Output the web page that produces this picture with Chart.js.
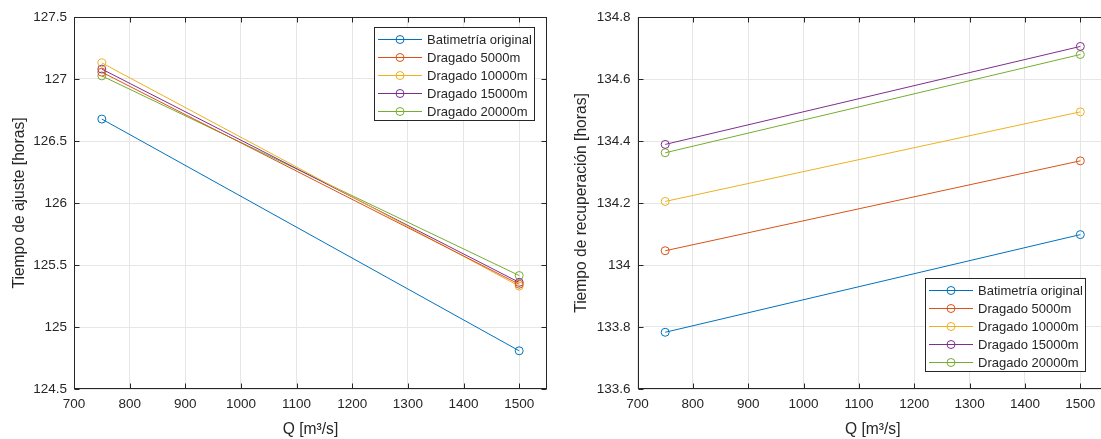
<!DOCTYPE html>
<html lang="es">
<head>
  <meta charset="UTF-8">
  <title>Tiempo de ajuste y recuperación</title>
  <script src="https://cdn.jsdelivr.net/npm/chart.js"></script>
  <style>
    body { margin: 0; width: 1101px; height: 439px; overflow: hidden; background: #fff; position: relative; font-family: 'Liberation Sans', Arial, sans-serif; }
    .panel { position: absolute; top: 0; }
    #panelAjuste { left: 0; }
    #panelRecup { left: 560px; }
    .leyenda { position: absolute; background: #fff; border: 1px solid #262626; padding: 2px 0 2px 3px; box-sizing: border-box; width: 161px; height: 94px; }
    #leyAjuste { left: 374px; top: 27px; }
    #leyRecup { left: 925px; top: 278px; }
    .fila { display: flex; align-items: center; height: 18px; font-size: 13px; color: #262626; white-space: nowrap; }
    .fila canvas { margin-right: 5px; }
  </style>
</head>
<body>
  <canvas id="chartAjuste" class="panel" width="560" height="439"></canvas>
  <canvas id="chartRecup" class="panel" width="560" height="439" style="left:560px"></canvas>
  <div id="leyAjuste" class="leyenda"></div>
  <div id="leyRecup" class="leyenda"></div>

  <script>
    // Caudales simulados
    const caudales = [750, 1500];
    const escenarios = ['Batimetría original', 'Dragado 5000m', 'Dragado 10000m', 'Dragado 15000m', 'Dragado 20000m'];

    // Tiempo de ajuste [horas], una lista por escenario
    const ajusteOriginal = [126.677, 124.808];
    const ajuste5000 = [127.055, 125.345];
    const ajuste10000 = [127.13, 125.33];
    const ajuste15000 = [127.08, 125.36];
    const ajuste20000 = [127.025, 125.415];

    // Tiempo de recuperación [horas]
    const recupOriginal = [133.783, 134.098];
    const recup5000 = [134.046, 134.336];
    const recup10000 = [134.205, 134.494];
    const recup15000 = [134.389, 134.705];
    const recup20000 = [134.362, 134.679];

    // Marcas de los ejes
    const ticksQ = [700, 800, 900, 1000, 1100, 1200, 1300, 1400, 1500];
    const ticksAjuste = [124.5, 125, 125.5, 126, 126.5, 127, 127.5];
    const ticksRecup = [133.6, 133.8, 134, 134.2, 134.4, 134.6, 134.8];

    const colores = ['#0072BD', '#D95319', '#EDB120', '#7E2F8E', '#77AC30'];
    const colorEje = '#262626';
    const fuente = "'Liberation Sans', Arial, sans-serif";

    function armarDatasets(series) {
      return series.map((vals, i) => ({
        label: escenarios[i],
        data: caudales.map((q, j) => ({ x: q, y: vals[j] })),
        showLine: true,
        borderColor: colores[i],
        backgroundColor: 'rgba(0,0,0,0)',
        borderWidth: 1,
        pointRadius: 4,
        pointBorderWidth: 1,
        pointBackgroundColor: 'rgba(0,0,0,0)',
        pointBorderColor: colores[i]
      }));
    }

    // Caja completa con marcas hacia adentro, estilo MATLAB
    const cajaEjes = {
      id: 'cajaEjes',
      afterDraw(chart) {
        const { ctx, chartArea: a, scales } = chart;
        const L = 5;
        ctx.save();
        ctx.strokeStyle = colorEje;
        ctx.lineWidth = 1;
        const l = Math.round(a.left) + 0.5, r = Math.round(a.right) - 0.5;
        const t = Math.round(a.top) + 0.5, b = Math.round(a.bottom) - 0.5;
        ctx.strokeRect(l, t, r - l, b - t);
        ctx.beginPath();
        scales.x.ticks.forEach(tk => {
          const x = Math.round(scales.x.getPixelForValue(tk.value)) + 0.5;
          ctx.moveTo(x, b); ctx.lineTo(x, b - L);
          ctx.moveTo(x, t); ctx.lineTo(x, t + L);
        });
        scales.y.ticks.forEach(tk => {
          const y = Math.round(scales.y.getPixelForValue(tk.value)) + 0.5;
          ctx.moveTo(l, y); ctx.lineTo(l + L, y);
          ctx.moveTo(r, y); ctx.lineTo(r - L, y);
        });
        ctx.stroke();
        ctx.restore();
      }
    };

    function crearGrafico(id, series, ticksY, tituloY, anchoY, padTitulo) {
      const ctx = document.getElementById(id).getContext('2d');
      return new Chart(ctx, {
        type: 'scatter',
        data: { datasets: armarDatasets(series) },
        options: {
          responsive: false,
          animation: false,
          layout: { padding: { top: 17, right: id === 'chartAjuste' ? 13 : 12, left: 0, bottom: 0 } },
          plugins: { legend: { display: false }, tooltip: { enabled: false } },
          scales: {
            x: {
              type: 'linear',
              min: 700,
              max: 1550,
              afterBuildTicks: s => { s.ticks = ticksQ.map(v => ({ value: v })); },
              afterFit: s => { s.height = 50; },
              grid: { color: '#e6e6e6', drawTicks: false },
              border: { display: false },
              ticks: { color: colorEje, padding: 7, font: { family: fuente, size: 13.5 }, callback: v => String(v), maxRotation: 0 },
              title: { display: true, text: 'Q [m³/s]', color: colorEje, font: { family: fuente, size: 15.6 }, padding: { top: 0, bottom: 0 } }
            },
            y: {
              type: 'linear',
              min: ticksY[0],
              max: ticksY[ticksY.length - 1],
              afterBuildTicks: s => { s.ticks = ticksY.map(v => ({ value: v })); },
              afterFit: s => { s.width = anchoY; },
              grid: { color: '#e6e6e6', drawTicks: false },
              border: { display: false },
              ticks: { color: colorEje, padding: 7, font: { family: fuente, size: 13.5 }, callback: v => String(v) },
              title: { display: true, text: tituloY, color: colorEje, font: { family: fuente, size: 15.6 }, padding: { top: padTitulo, bottom: 0 } }
            }
          }
        },
        plugins: [cajaEjes]
      });
    }

    // Leyenda en HTML a partir de los datasets del gráfico
    function crearLeyenda(chart, idDiv) {
      const div = document.getElementById(idDiv);
      chart.data.datasets.forEach(ds => {
        const fila = document.createElement('div');
        fila.className = 'fila';
        const c = document.createElement('canvas');
        c.width = 44; c.height = 18;
        const g = c.getContext('2d');
        g.strokeStyle = ds.borderColor;
        g.lineWidth = 1;
        g.beginPath();
        g.moveTo(0, 9.5); g.lineTo(44, 9.5);
        g.stroke();
        g.beginPath();
        g.arc(22, 9.5, 4, 0, Math.PI * 2);
        g.stroke();
        const txt = document.createElement('span');
        txt.textContent = ds.label;
        fila.appendChild(c);
        fila.appendChild(txt);
        div.appendChild(fila);
      });
    }

    const chartAjuste = crearGrafico('chartAjuste',
      [ajusteOriginal, ajuste5000, ajuste10000, ajuste15000, ajuste20000],
      ticksAjuste, 'Tiempo de ajuste [horas]', 74, 10.5);
    const chartRecup = crearGrafico('chartRecup',
      [recupOriginal, recup5000, recup10000, recup15000, recup20000],
      ticksRecup, 'Tiempo de recuperación [horas]', 77.5, 12);

    crearLeyenda(chartAjuste, 'leyAjuste');
    crearLeyenda(chartRecup, 'leyRecup');
  </script>
</body>
</html>
